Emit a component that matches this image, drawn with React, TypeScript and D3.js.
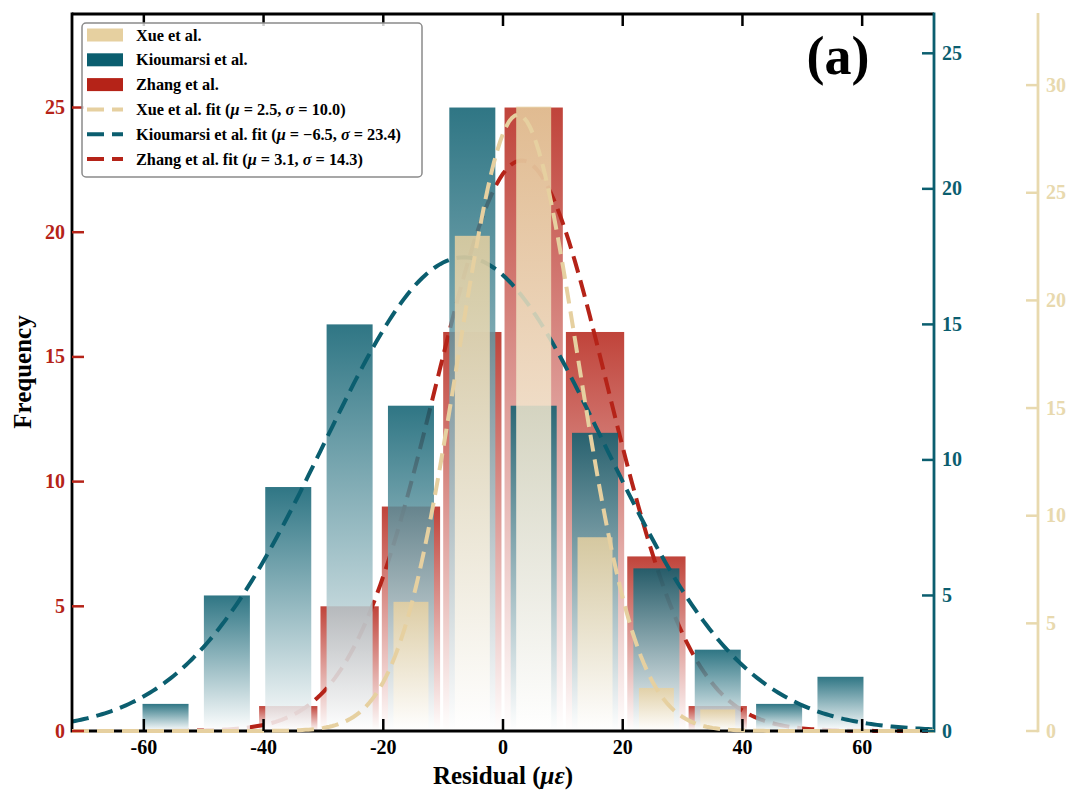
import React from "react";
import * as d3 from "d3";

// ---- data ----
const binCenters = [-56.375, -46.125, -35.875, -25.625, -15.375, -5.125, 5.125, 15.375, 25.625, 35.875, 46.125, 56.375];
const binWidth = 10.25;
const zhangCounts = [0, 0, 1, 5, 9, 16, 25, 16, 7, 1, 0, 0];
const kioumarsiCounts = [1, 5, 9, 15, 12, 23, 12, 11, 6, 3, 1, 2];
const xueCounts = [0, 0, 0, 0, 6, 23, 29, 9, 2, 1, 0, 0];
const fits = {
  xue: { mu: 2.5, sigma: 10.0 },
  kio: { mu: -6.5, sigma: 23.4 },
  zhang: { mu: 3.1, sigma: 14.3 },
};
const xTicks = [-60, -40, -20, 0, 20, 40, 60];
const redTicks = [0, 5, 10, 15, 20, 25];
const tealTicks = [0, 5, 10, 15, 20, 25];
const tanTicks = [0, 5, 10, 15, 20, 25, 30];

const RED = "#b52318";
const TEAL = "#0b5e6f";
const TAN = "#e6d0a0";
const TAN_AX = "#e8d9ae";

const W = 1080, H = 804;
const X0 = 72, X1 = 934, Y0 = 14, Y1 = 731;
const FONT = "'Liberation Serif', 'Times New Roman', serif";

function sum(a: number[]) { return a.reduce((s, v) => s + v, 0); }

export default function App() {
  const x = d3.scaleLinear().domain([-72, 72]).range([X0, X1]);
  const yRed = d3.scaleLinear().domain([0, 25 * 1.15]).range([Y1, Y0]);
  const yTeal = d3.scaleLinear().domain([0, 23 * 1.15]).range([Y1, Y0]);
  const yTan = d3.scaleLinear().domain([0, 29 * 1.15]).range([Y1, 13]);

  const xs = d3.range(-72, 72.01, 0.5);
  const curve = (mu: number, sigma: number, n: number, y: d3.ScaleLinear<number, number>) => {
    const pts: [number, number][] = xs.map((v) => [v, (n * binWidth) / (sigma * Math.sqrt(2 * Math.PI)) * Math.exp(-0.5 * ((v - mu) / sigma) ** 2)]);
    return d3.line<[number, number]>().x((d) => x(d[0])).y((d) => y(d[1]))(pts) || "";
  };

  const bars = (counts: number[], y: d3.ScaleLinear<number, number>, rw: number, grad: string, op: number) =>
    counts.map((c, i) =>
      c > 0 ? (
        <rect key={i} x={x(binCenters[i] - (binWidth * rw) / 2)} width={x(binWidth * rw) - x(0)} y={y(c)} height={Y1 - y(c)} fill={`url(#${grad})`} fillOpacity={op} />
      ) : null
    );

  const dash = "17 8";
  const lw = 4;

  const legendRows = [
    { type: "patch", color: TAN, label: [{ t: "Xue et al." }] },
    { type: "patch", color: TEAL, label: [{ t: "Kioumarsi et al." }] },
    { type: "patch", color: RED, label: [{ t: "Zhang et al." }] },
    { type: "line", color: TAN, label: [{ t: "Xue et al. fit (" }, { t: "μ", i: true }, { t: " = 2.5, " }, { t: "σ", i: true }, { t: " = 10.0)" }] },
    { type: "line", color: TEAL, label: [{ t: "Kioumarsi et al. fit (" }, { t: "μ", i: true }, { t: " = −6.5, " }, { t: "σ", i: true }, { t: " = 23.4)" }] },
    { type: "line", color: RED, label: [{ t: "Zhang et al. fit (" }, { t: "μ", i: true }, { t: " = 3.1, " }, { t: "σ", i: true }, { t: " = 14.3)" }] },
  ];

  const grad = (id: string, c: string) => (
    <linearGradient id={id} x1="0" y1="0" x2="0" y2="1">
      <stop offset="0" stopColor={c} />
      <stop offset="1" stopColor="#ffffff" />
    </linearGradient>
  );

  return (
    <svg width={W} height={H} style={{ position: "absolute", left: 0, top: 0, background: "#fff" }} fontFamily={FONT}>
      <defs>
        {grad("gRed", RED)}
        {grad("gTeal", TEAL)}
        {grad("gTan", TAN)}
        <clipPath id="plot">
          <rect x={X0} y={Y0 - 2} width={X1 - X0} height={Y1 - Y0 + 4} />
        </clipPath>
      </defs>

      <g clipPath="url(#plot)">
        {bars(zhangCounts, yRed, 0.95, "gRed", 0.85)}
        <path d={curve(fits.zhang.mu, fits.zhang.sigma, sum(zhangCounts), yRed)} fill="none" stroke={RED} strokeWidth={lw} strokeDasharray={dash} />
        {bars(kioumarsiCounts, yTeal, 0.75, "gTeal", 0.85)}
        <path d={curve(fits.kio.mu, fits.kio.sigma, sum(kioumarsiCounts), yTeal)} fill="none" stroke={TEAL} strokeWidth={lw} strokeDasharray={dash} />
        {bars(xueCounts, yTan, 0.57, "gTan", 0.85)}
      </g>

      {/* spines */}
      <line x1={X0} x2={X1} y1={Y0} y2={Y0} stroke="#000" strokeWidth={2.8} />
      <line x1={X0} x2={X1} y1={Y1} y2={Y1} stroke="#000" strokeWidth={2.8} />
      <line x1={X0} x2={X0} y1={Y0 - 1.4} y2={Y1 + 1.4} stroke="#000" strokeWidth={2.8} />
      <line x1={X1} x2={X1} y1={Y0 - 1.4} y2={Y1 + 1.4} stroke={TEAL} strokeWidth={2.8} />

      <g clipPath="url(#plot)">
        <path d={curve(fits.xue.mu, fits.xue.sigma, sum(xueCounts), yTan)} fill="none" stroke={TAN} strokeWidth={lw} strokeDasharray={dash} />
      </g>

      {/* x ticks */}
      {xTicks.map((t) => (
        <g key={t}>
          <line x1={x(t)} x2={x(t)} y1={Y1} y2={Y1 - 12} stroke="#000" strokeWidth={2.5} />
          <line x1={x(t)} x2={x(t)} y1={Y0} y2={Y0 + 12} stroke="#000" strokeWidth={2.5} />
          <text x={x(t)} y={754} textAnchor="middle" fontSize={20} fontWeight="bold" fill="#000">{t}</text>
        </g>
      ))}

      {/* left red ticks */}
      {redTicks.map((t) => (
        <g key={t}>
          <line x1={X0} x2={X0 + 12} y1={yRed(t)} y2={yRed(t)} stroke={RED} strokeWidth={2.5} />
          <text x={65} y={yRed(t) + 6.5} textAnchor="end" fontSize={20} fontWeight="bold" fill={RED}>{t}</text>
        </g>
      ))}

      {/* right teal ticks */}
      {tealTicks.map((t) => (
        <g key={t}>
          <line x1={X1} x2={X1 - 12} y1={yTeal(t)} y2={yTeal(t)} stroke={TEAL} strokeWidth={2.5} />
          <text x={942} y={yTeal(t) + 6.5} textAnchor="start" fontSize={20} fontWeight="bold" fill={TEAL}>{t}</text>
        </g>
      ))}

      {/* tan offset axis */}
      <line x1={1038} x2={1038} y1={13} y2={Y1 + 1.2} stroke={TAN_AX} strokeWidth={2.8} />
      {tanTicks.map((t) => (
        <g key={t}>
          <line x1={1038} x2={1026} y1={yTan(t)} y2={yTan(t)} stroke={TAN_AX} strokeWidth={2.5} />
          <text x={1046} y={yTan(t) + 6.5} textAnchor="start" fontSize={20} fontWeight="bold" fill={TAN_AX}>{t}</text>
        </g>
      ))}

      {/* axis labels */}
      <text x={503} y={784} textAnchor="middle" fontSize={25} fontWeight="bold" fill="#000">
        Residual (<tspan fontStyle="italic">με</tspan>)
      </text>
      <text transform="translate(31,372) rotate(-90)" textAnchor="middle" fontSize={25} fontWeight="bold" fill="#000">Frequency</text>

      <text x={838} y={74} textAnchor="middle" fontSize={54} fontWeight="bold" fill="#000">(a)</text>

      {/* legend */}
      <rect x={82} y={23} width={340} height={154} rx={4} fill="#fff" fillOpacity={0.8} stroke="#8a8a8a" strokeWidth={1.5} />
      {legendRows.map((r, i) => {
        const cy = 35 + i * 24.8;
        return (
          <g key={i}>
            {r.type === "patch" ? (
              <rect x={87} y={cy - 6.5} width={36} height={13} fill={r.color} />
            ) : (
              <line x1={87} x2={123} y1={cy} y2={cy} stroke={r.color} strokeWidth={lw} strokeDasharray={dash} />
            )}
            <text x={136} y={cy + 5.5} fontSize={16.3} fontWeight="bold" fill="#000">
              {r.label.map((s: any, j) => (
                <tspan key={j} fontStyle={s.i ? "italic" : "normal"}>{s.t}</tspan>
              ))}
            </text>
          </g>
        );
      })}
    </svg>
  );
}
